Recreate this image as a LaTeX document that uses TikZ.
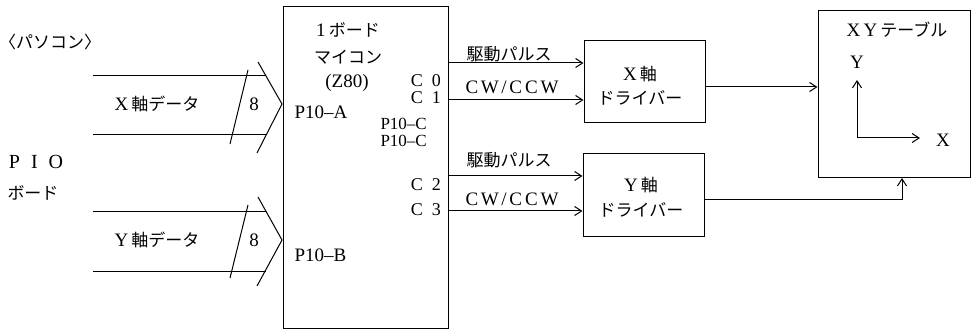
\documentclass[tikz,border=0pt]{standalone}
\usepackage{fontspec}
\setmainfont{Liberation Serif}
\newfontfamily\jp{Noto Sans CJK JP}
\usetikzlibrary{arrows.meta}
\newcommand{\jj}[1]{{\jp\fontsize{17}{17}\selectfont #1}}
\begin{document}
\begin{tikzpicture}[x=1pt,y=-1pt,
  ln/.style={line width=1pt},
  arr/.style={ln,-{Straight Barb[length=7pt,width=9pt,line width=1pt]}},
  box/.style={draw,ln,inner sep=0pt},
  lat/.style={font=\fontsize{19}{19}\selectfont\addfontfeature{LetterSpace=14}},
  jt/.style={font=\fontsize{17}{17}\selectfont\jp},
  mix/.style={font=\fontsize{19}{19}\selectfont,align=center},
  port/.style={font=\fontsize{18}{18}\selectfont,anchor=east,inner sep=0pt}]
\useasboundingbox (0,0) rectangle (972,331);
% boxes
\node[box,minimum width=165pt,minimum height=321pt] (mcu) at (365.5,167.5) {};
\node[box,minimum width=121pt,minimum height=82pt] (xdrv) at (644.5,82) {};
\node[box,minimum width=121pt,minimum height=83pt] (ydrv) at (643.5,195.5) {};
\node[box,minimum width=152pt,minimum height=167pt] (xy) at (894,94.5) {};
% left labels
\node[jt] (pc) at (50,42) {〈パソコン〉};
\node[font=\fontsize{20}{20}\selectfont\addfontfeature{LetterSpace=55}] (pio) at (36,162) {PIO};
\node[jt] (pb) at (33,193) {ボード};
% X bus
\coordinate (xa) at (93,76);
\coordinate (xb) at (93,135);
\coordinate (xt) at (282,104);
\draw[ln] (xa) -- (266,76);
\draw[ln] (xb) -- (266,135);
\draw[ln] (258,62) -- (xt) -- (257,153);
\draw[ln] (248,70) -- (230,144);
\node[mix] (x8) at (254,104) {8};
\node[mix] (xdata) at (157,104) {X\,\jj{軸データ}};
% Y bus
\coordinate (ya) at (93,212);
\coordinate (yb) at (93,271);
\coordinate (yt) at (282,240);
\draw[ln] (ya) -- (266,212);
\draw[ln] (yb) -- (266,271);
\draw[ln] (258,197) -- (yt) -- (257,286);
\draw[ln] (248,205) -- (230,278);
\node[mix] (y8) at (254,240) {8};
\node[mix] (ydata) at (157,240) {Y\,\jj{軸データ}};
% MCU texts
\node[mix] (t1) at (348,30) {1\,\jj{ボード}};
\node[jt] (t2) at (348,57) {マイコン};
\node[mix] (t3) at (347,83) {(Z80)};
\node[mix,anchor=west] (pa) at (291,112) {P10--A};
\node[port,font=\fontsize{17}{17}\selectfont] (pc1) at (427,124) {P10--C};
\node[port,font=\fontsize{17}{17}\selectfont] (pc2) at (427,141) {P10--C};
\node[mix,anchor=west] (pbb) at (291,255) {P10--B};
\node[port] (c0) at (441,81) {C\,\,\,0};
\node[port] (c1) at (441,98) {C\,\,\,1};
\node[port] (c2) at (441,185) {C\,\,\,2};
\node[port] (c3) at (441,210) {C\,\,\,3};
% outputs
\coordinate (o0) at (448,63);
\coordinate (o1) at (448,100);
\coordinate (o2) at (448,176);
\coordinate (o3) at (448,211);
\draw[arr] (o0) -- (xdrv.west|-o0);
\draw[arr] (o1) -- (xdrv.west|-o1);
\draw[arr] (o2) -- (ydrv.west|-o2);
\draw[arr] (o3) -- (ydrv.west|-o3);
\node[jt] (l0) at (509,54) {駆動パルス};
\node[lat] (l1) at (512,87) {CW/C\,CW};
\node[jt] (l2) at (509,160) {駆動パルス};
\node[lat] (l3) at (512,199) {CW/C\,CW};
% drivers text
\node[mix] (xd1) at (640,74) {X\,\jj{軸}};
\node[jt] (xd2) at (640,98) {ドライバー};
\node[mix] (yd1) at (641,185) {Y\,\jj{軸}};
\node[jt] (yd2) at (641,210) {ドライバー};
% to XY table
\coordinate (xo) at (705,87);
\draw[arr] (xdrv.east|-xo) -- (xy.west|-xo);
\coordinate (yo) at (704,200);
\coordinate (yin) at (902,178);
\draw[arr] (ydrv.east|-yo) -| (yin);
% XY table contents
\node[mix] (xyt) at (897,30) {X\,Y\,\jj{テーブル}};
\coordinate (org) at (857,138);
\coordinate (ytip) at (857,80);
\coordinate (xtip) at (920,138);
\draw[arr] (org) -- (ytip);
\draw[arr] (org) -- (xtip);
\node[mix] (yl) at (857,62) {Y};
\node[mix] (xl) at (943,140) {X};
\end{tikzpicture}
\end{document}
